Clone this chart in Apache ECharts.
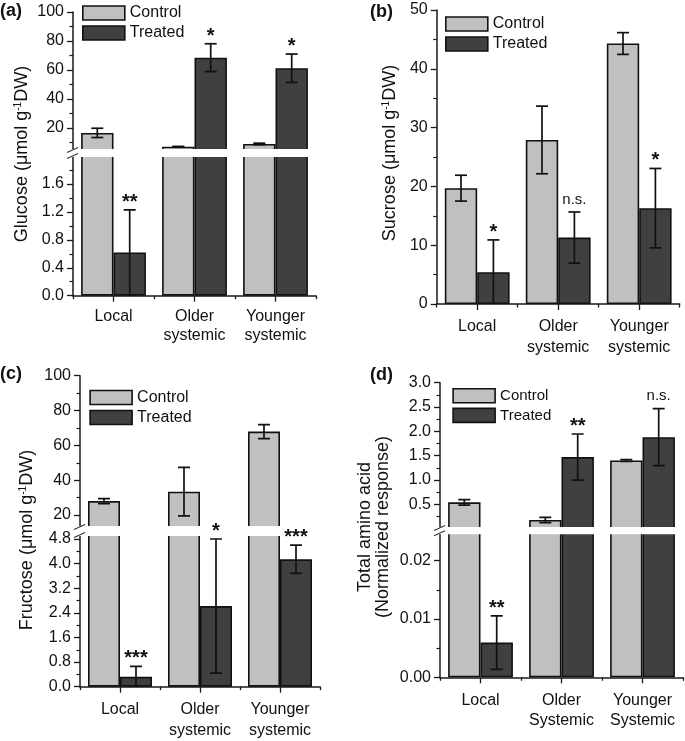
<!DOCTYPE html>
<html><head><meta charset="utf-8">
<script src="https://cdn.jsdelivr.net/npm/echarts@6/dist/echarts.min.js"></script>
<style>html,body{margin:0;padding:0;background:#fff}#c{width:685px;height:741px}</style>
</head><body><div id="c"></div>
<script>
// ---------- categories ----------
const categoriesLower = ['Local', 'Older\nsystemic', 'Younger\nsystemic'];
const categoriesUpper = ['Local', 'Older\nSystemic', 'Younger\nSystemic'];
const seriesNames = ['Control', 'Treated'];

// ---------- (a) Glucose ----------
const glucoseControl = [16.6, 7.1, 9.0];
const glucoseControlSD = [3.2, 0.2, 0.5];
const glucoseTreated = [0.62, 68.5, 61.2];
const glucoseTreatedSD = [0.61, 9.6, 9.8];
const glucoseSig = ['**', '*', '*'];
const glucoseUpperRange = [4.8, 100];
const glucoseUpperTicks = [20, 40, 60, 80, 100];
const glucoseUpperMinor = [10, 30, 50, 70, 90];
const glucoseLowerRange = [0, 2.0];
const glucoseLowerTicks = [0, 0.4, 0.8, 1.2, 1.6];
const glucoseLowerMinor = [0.2, 0.6, 1.0, 1.4, 1.8];

// ---------- (b) Sucrose ----------
const sucroseControl = [19.7, 27.9, 44.3];
const sucroseControlSD = [2.2, 5.75, 1.85];
const sucroseTreated = [5.4, 11.3, 16.3];
const sucroseTreatedSD = [5.5, 4.35, 6.75];
const sucroseSig = ['*', 'n.s.', '*'];
const sucroseRange = [0, 50];
const sucroseTicks = [0, 10, 20, 30, 40, 50];
const sucroseMinor = [5, 15, 25, 35, 45];

// ---------- (c) Fructose ----------
const fructoseControl = [28.0, 33.4, 67.9];
const fructoseControlSD = [1.45, 13.9, 4.0];
const fructoseTreated = [0.32, 2.62, 4.14];
const fructoseTreatedSD = [0.34, 2.18, 0.46];
const fructoseSig = ['***', '*', '***'];
const fructoseUpperRange = [13.1, 100];
const fructoseUpperTicks = [20, 40, 60, 80, 100];
const fructoseUpperMinor = [30, 50, 70, 90];
const fructoseLowerRange = [0, 4.93];
const fructoseLowerTicks = [0, 0.8, 1.6, 2.4, 3.2, 4.0, 4.8];
const fructoseLowerMinor = [0.4, 1.2, 2.0, 2.8, 3.6, 4.4];

// ---------- (d) Total amino acid ----------
const aminoControl = [0.54, 0.177, 1.40];
const aminoControlSD = [0.055, 0.055, 0.02];
const aminoTreated = [0.00595, 1.47, 1.88];
const aminoTreatedSD = [0.0046, 0.475, 0.585];
const aminoSig = ['**', '**', 'n.s.'];
const aminoUpperRange = [0.0127, 3.0];
const aminoUpperTicks = [0.5, 1.0, 1.5, 2.0, 2.5, 3.0];
const aminoUpperMinor = [0.25, 0.75, 1.25, 1.75, 2.25, 2.75];
const aminoLowerRange = [0, 0.0247];
const aminoLowerTicks = [0, 0.01, 0.02];
const aminoLowerMinor = [0.005, 0.015];

// ---------- styling / layout ----------
const FONT = '"Liberation Sans", Arial, Helvetica, sans-serif';
const INK = '#111';
const AXIS = '#1a1a1a';
const COLORS = ['#c0c0c0', '#404040'];
const BAR_FRAC = 0.4; // each bar = 40% of band (barCategoryGap 20%, barGap 0)

const panels = [
  { cats: categoriesLower, vals: [glucoseControl, glucoseTreated], sds: [glucoseControlSD, glucoseTreatedSD], sig: glucoseSig,
    left: 73, width: 243, labelLH: 19, labelMargin: 11,
    segs: [
      { top: 12, height: 138, range: glucoseUpperRange, ticks: glucoseUpperTicks, minor: glucoseUpperMinor, dec: 0 },
      { top: 156, height: 139.7, range: glucoseLowerRange, ticks: glucoseLowerTicks, minor: glucoseLowerMinor, dec: 1 }
    ],
    legend: { x: 82, y: 5, fs: 16 },
    ytitle: { lines: [['Glucose (μmol g', '-1', 'DW)']], x: 22, y: 154 },
    tag: { text: '(a)', x: 0, y: 11 } },
  { cats: categoriesLower, vals: [sucroseControl, sucroseTreated], sds: [sucroseControlSD, sucroseTreatedSD], sig: sucroseSig,
    left: 436.7, width: 243, labelLH: 21, labelMargin: 12,
    segs: [
      { top: 10, height: 294, range: sucroseRange, ticks: sucroseTicks, minor: sucroseMinor, dec: 0 }
    ],
    legend: { x: 445, y: 16, fs: 16 },
    ytitle: { lines: [['Sucrose (μmol g', '-1', 'DW)']], x: 390, y: 153 },
    tag: { text: '(b)', x: 370, y: 12 } },
  { cats: categoriesLower, vals: [fructoseControl, fructoseTreated], sds: [fructoseControlSD, fructoseTreatedSD], sig: fructoseSig,
    left: 80, width: 240, labelLH: 21, labelMargin: 12,
    segs: [
      { top: 375.7, height: 151.3, range: fructoseUpperRange, ticks: fructoseUpperTicks, minor: fructoseUpperMinor, dec: 0 },
      { top: 535, height: 151.7, range: fructoseLowerRange, ticks: fructoseLowerTicks, minor: fructoseLowerMinor, dec: 1 }
    ],
    legend: { x: 89.3, y: 389.5, fs: 16 },
    ytitle: { lines: [['Fructose (μmol g', '-1', 'DW)']], x: 27, y: 540 },
    tag: { text: '(c)', x: 0, y: 374 } },
  { cats: categoriesUpper, vals: [aminoControl, aminoTreated], sds: [aminoControlSD, aminoTreatedSD], sig: aminoSig,
    left: 440, width: 243, labelLH: 20, labelMargin: 13,
    segs: [
      { top: 382.7, height: 145.3, range: aminoUpperRange, ticks: aminoUpperTicks, minor: aminoUpperMinor, dec: 1 },
      { top: 533.3, height: 144, range: aminoLowerRange, ticks: aminoLowerTicks, minor: aminoLowerMinor, dec: 2 }
    ],
    legend: { x: 452.3, y: 388, fs: 15 },
    ytitle: { lines: [['Total amino acid'], ['(Normalized response)']], x: 374, y: 527 },
    tag: { text: '(d)', x: 370, y: 375 } }
];

const grids = [], xAxes = [], yAxes = [], series = [], graphics = [], legends = [];

function errRenderer(sign) {
  return function (params, api) {
    const i = api.value(0);
    const band = api.size([1, 0])[0];
    const pLo = api.coord([i, api.value(1)]);
    const pHi = api.coord([i, api.value(2)]);
    const x = pLo[0] + sign * band * BAR_FRAC / 2;
    const cap = 6;
    const st = { stroke: INK, lineWidth: 1.7 };
    return { type: 'group', children: [
      { type: 'line', shape: { x1: x, y1: pLo[1], x2: x, y2: pHi[1] }, style: st },
      { type: 'line', shape: { x1: x - cap, y1: pHi[1], x2: x + cap, y2: pHi[1] }, style: st },
      { type: 'line', shape: { x1: x - cap, y1: pLo[1], x2: x + cap, y2: pLo[1] }, style: st }
    ] };
  };
}

function sigRenderer(texts) {
  return function (params, api) {
    const i = api.value(0);
    const t = texts[i];
    const band = api.size([1, 0])[0];
    const p = api.coord([i, api.value(1)]);
    const x = p[0] + band * BAR_FRAC / 2;
    const star = t.indexOf('*') >= 0;
    return { type: 'text', z2: 10, style: {
      text: t, x: x, y: star ? p[1] - 7.5 : p[1] - 12.5,
      align: 'center', verticalAlign: 'middle',
      font: star ? 'bold 20px ' + FONT : '15px ' + FONT, fill: INK
    } };
  };
}

panels.forEach(function (p) {
  const nSeg = p.segs.length;
  // which segment hosts each significance label
  const sigSeg = p.sig.map(function (t, i) {
    const hi = p.vals[1][i] + p.sds[1][i];
    for (let k = nSeg - 1; k >= 0; k--) { if (hi <= p.segs[k].range[1]) return k; }
    return 0;
  });
  p.segs.forEach(function (s, si) {
    const gi = grids.length;
    const isBottom = si === nSeg - 1;
    grids.push({ left: p.left, top: s.top, width: p.width, height: s.height, outerBoundsMode: 'none' });
    const xi = xAxes.length;
    xAxes.push({
      type: 'category', gridIndex: gi, data: p.cats, position: 'bottom', show: isBottom,
      axisLine: { show: isBottom, lineStyle: { color: AXIS, width: 1.5 } },
      axisTick: { show: isBottom, alignWithLabel: true, length: 6, lineStyle: { color: AXIS, width: 1.3 } },
      axisLabel: { show: isBottom, color: INK, fontFamily: FONT, fontSize: 16, lineHeight: p.labelLH, margin: p.labelMargin, interval: 0 },
      splitLine: { show: false }
    });
    xAxes.push({
      type: 'category', gridIndex: gi, data: p.cats, position: 'bottom', show: isBottom,
      axisLine: { show: false },
      axisTick: { show: isBottom, length: 3.5, lineStyle: { color: AXIS, width: 1.3 } },
      axisLabel: { show: false }, splitLine: { show: false }
    });
    const yi = yAxes.length;
    yAxes.push({
      type: 'value', gridIndex: gi, min: s.range[0], max: s.range[1], position: 'left',
      axisLine: { show: true, lineStyle: { color: AXIS, width: 1.5 } },
      axisTick: { show: true, length: 6, customValues: s.ticks, lineStyle: { color: AXIS, width: 1.3 } },
      axisLabel: { customValues: s.ticks, color: INK, fontFamily: FONT, fontSize: 16, margin: 9,
        formatter: (function (d) { return function (v) { return Number(v).toFixed(d); }; })(s.dec) },
      splitLine: { show: false }
    });
    yAxes.push({
      type: 'value', gridIndex: gi, min: s.range[0], max: s.range[1], position: 'left',
      axisLine: { show: false },
      axisTick: { show: true, length: 3.5, customValues: s.minor, lineStyle: { color: AXIS, width: 1.2 } },
      axisLabel: { show: false }, splitLine: { show: false }
    });
    [0, 1].forEach(function (k) {
      series.push({
        type: 'bar', name: seriesNames[k], xAxisIndex: xi, yAxisIndex: yi, data: p.vals[k],
        barGap: '0%', barCategoryGap: '20%', clip: true, z: 2,
        itemStyle: { color: COLORS[k], borderColor: INK, borderWidth: 1.6 }
      });
    });
    [0, 1].forEach(function (k) {
      series.push({
        type: 'custom', xAxisIndex: xi, yAxisIndex: yi, clip: true, z: 5, silent: true,
        data: p.vals[k].map(function (v, i) { return [i, v - p.sds[k][i], v + p.sds[k][i]]; }),
        renderItem: errRenderer(k === 0 ? -1 : 1)
      });
    });
    const sigData = [];
    p.sig.forEach(function (t, i) {
      if (t && sigSeg[i] === si) sigData.push([i, p.vals[1][i] + p.sds[1][i]]);
    });
    if (sigData.length) {
      series.push({ type: 'custom', xAxisIndex: xi, yAxisIndex: yi, clip: false, z: 110, silent: true,
        data: sigData, renderItem: sigRenderer(p.sig) });
    }
  });

  // axis break decoration
  for (let si = 0; si < nSeg - 1; si++) {
    const yU = p.segs[si].top + p.segs[si].height;
    const yL = p.segs[si + 1].top;
    graphics.push({ type: 'rect', z: 100, silent: true,
      shape: { x: p.left - 1, y: yU - 0.9, width: p.width + 3, height: yL - yU + 1.8 },
      style: { fill: '#fff' } });
    [yU, yL].forEach(function (yy) {
      graphics.push({ type: 'line', z: 101, silent: true,
        shape: { x1: p.left - 6, y1: yy + 2.5, x2: p.left + 5, y2: yy - 2.5 },
        style: { stroke: '#333', lineWidth: 1.1 } });
    });
  }

  legends.push({
    data: seriesNames, orient: 'vertical', left: p.legend.x, top: p.legend.y, padding: 0,
    itemWidth: 42, itemHeight: 14, itemGap: 4, icon: 'rect', selectedMode: false,
    itemStyle: { borderColor: INK, borderWidth: 1.6 },
    textStyle: { fontFamily: FONT, fontSize: p.legend.fs, color: INK, padding: [0, 0, 0, 0] }
  });

  // y-axis title
  const rich = { n: { fontFamily: FONT, fontSize: 18, color: INK, lineHeight: 18 },
                 s: { fontFamily: FONT, fontSize: 10, color: INK, lineHeight: 18, verticalAlign: 'top' } };
  const text = p.ytitle.lines.map(function (ln) {
    return ln.length === 3 ? '{n|' + ln[0] + '}{s|' + ln[1] + '}{n|' + ln[2] + '}' : '{n|' + ln[0] + '}';
  }).join('\n');
  graphics.push({ type: 'text', x: p.ytitle.x, y: p.ytitle.y, rotation: Math.PI / 2, z: 50,
    style: { text: text, rich: rich, align: 'center', verticalAlign: 'middle', fill: INK,
      font: '18px ' + FONT } });
  graphics.push({ type: 'text', x: p.tag.x, y: p.tag.y, z: 50,
    style: { text: p.tag.text, font: 'bold 18px ' + FONT, fill: INK, align: 'left', verticalAlign: 'middle' } });
});

const chart = echarts.init(document.getElementById('c'), null, { renderer: 'canvas' });
chart.setOption({
  animation: false,
  backgroundColor: '#fff',
  grid: grids, xAxis: xAxes, yAxis: yAxes, series: series, legend: legends,
  graphic: { elements: graphics }
});
</script></body></html>
